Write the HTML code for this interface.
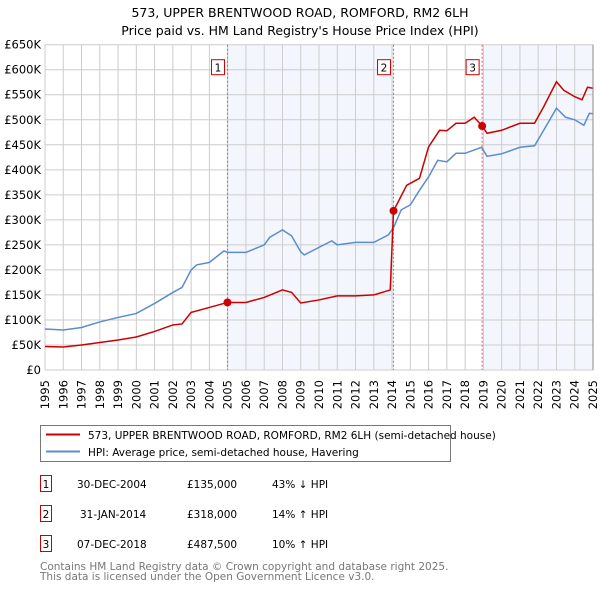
<!DOCTYPE html>
<html><head><meta charset="utf-8"><style>
body{margin:0;background:#fff;font-family:"Liberation Sans","DejaVu Sans",sans-serif;}
svg text{font-family:"DejaVu Sans","Liberation Sans",sans-serif;}
</style></head><body>
<svg id="c" width="600" height="590" viewBox="0 0 600 590" xmlns="http://www.w3.org/2000/svg">
<text x="300" y="17" text-anchor="middle" font-size="12.5" fill="#000">573, UPPER BRENTWOOD ROAD, ROMFORD, RM2 6LH</text>
<text x="300" y="35" text-anchor="middle" font-size="12.5" fill="#000">Price paid vs. HM Land Registry's House Price Index (HPI)</text>
<g id="plot"></g>
<g>
<rect x="40.5" y="425.5" width="410" height="36" fill="#fff" stroke="#777"/>
<line x1="46" y1="434.5" x2="80" y2="434.5" stroke="#cc0000" stroke-width="2"/>
<text x="88" y="439" font-size="10.5">573, UPPER BRENTWOOD ROAD, ROMFORD, RM2 6LH (semi-detached house)</text>
<line x1="46" y1="451.5" x2="80" y2="451.5" stroke="#5b8bd0" stroke-width="2"/>
<text x="88" y="456" font-size="10.5">HPI: Average price, semi-detached house, Havering</text>
</g>
<g font-size="10.5">
<rect x="40.5" y="475.5" width="11" height="16" fill="#fff" stroke="#cc0000"/><text x="46" y="488" text-anchor="middle">1</text>
<text x="77" y="488">30-DEC-2004</text><text x="187" y="488">£135,000</text><text x="272" y="488">43% ↓ HPI</text>
<rect x="40.5" y="505.5" width="11" height="16" fill="#fff" stroke="#cc0000"/><text x="46" y="518" text-anchor="middle">2</text>
<text x="80" y="518">31-JAN-2014</text><text x="187" y="518">£318,000</text><text x="272" y="518">14% ↑ HPI</text>
<rect x="40.5" y="535.5" width="11" height="16" fill="#fff" stroke="#cc0000"/><text x="46" y="548" text-anchor="middle">3</text>
<text x="77" y="548">07-DEC-2018</text><text x="187" y="548">£487,500</text><text x="272" y="548">10% ↑ HPI</text>
</g>
<text x="40" y="570" font-size="10.5" fill="#777">Contains HM Land Registry data © Crown copyright and database right 2025.</text>
<text x="40" y="580" font-size="10.5" fill="#777">This data is licensed under the Open Government Licence v3.0.</text>
</svg>
<script>
const yTicks=[0,50000,100000,150000,200000,250000,300000,350000,400000,450000,500000,550000,600000,650000];
const yTickLabels=["£0","£50K","£100K","£150K","£200K","£250K","£300K","£350K","£400K","£450K","£500K","£550K","£600K","£650K"];
const xYears=[1995,1996,1997,1998,1999,2000,2001,2002,2003,2004,2005,2006,2007,2008,2009,2010,2011,2012,2013,2014,2015,2016,2017,2018,2019,2020,2021,2022,2023,2024,2025];
const hpiT=[1995,1996,1997,1998,1999,2000,2001,2002,2002.5,2003,2003.3,2004,2004.8,2005,2006,2007,2007.3,2008,2008.5,2009,2009.2,2010,2010.7,2011,2012,2013,2013.8,2014.1,2014.5,2015,2015.5,2016,2016.5,2017,2017.5,2018,2018.9,2019.2,2020,2021,2021.8,2022.3,2023,2023.5,2024,2024.5,2024.8,2025];
const hpiV=[82000,80000,85000,96000,105000,113000,133000,155000,165000,200000,210000,215000,238000,235000,235000,250000,265000,280000,268000,236000,230000,245000,258000,250000,255000,255000,270000,286000,320000,330000,359000,386000,419000,416000,433000,433000,445000,427000,432000,445000,448000,479000,523000,505000,500000,489000,513000,512000];
const priceT=[1995,1996,1997,1998,1999,2000,2001,2002,2002.5,2003,2004,2004.99,2006,2007,2008,2008.5,2009,2010,2011,2012,2013,2013.9,2014.08,2014.8,2015.5,2016,2016.6,2017,2017.5,2018,2018.5,2018.93,2019.2,2020,2021,2021.8,2022.3,2023,2023.4,2024,2024.4,2024.7,2025];
const priceV=[47000,46000,50000,55000,60000,66000,77000,90000,92000,115000,125000,135000,135000,145000,160000,155000,134000,140000,148000,148000,150000,160000,318000,369000,383000,446000,479000,478000,493000,493000,505000,487500,473000,479000,493000,493000,526000,576000,559000,546000,540000,565000,563000];
const saleT=[2004.99,2014.08,2018.93];
const saleV=[135000,318000,487500];
const saleLabels=["1","2","3"];
const X0=45,X1=593,Y0=370,Y1=44.7;
const xs=t=>X0+(t-1995)/30*(X1-X0);
const ys=v=>Y0-v/650000*(Y0-Y1);
const NS="http://www.w3.org/2000/svg";
const g=document.getElementById('plot');
function mk(tag,attrs){const e=document.createElementNS(NS,tag);for(const k in attrs)e.setAttribute(k,attrs[k]);g.appendChild(e);return e;}
let e;
e=mk('rect',{x:xs(saleT[0]),y:Y1,width:xs(saleT[1])-xs(saleT[0]),height:Y0-Y1,fill:'#eef3fc',opacity:0.7});


e=mk('rect',{x:xs(saleT[2]),y:Y1,width:X1-xs(saleT[2]),height:Y0-Y1,fill:'#eef3fc',opacity:0.7});


xYears.forEach(y=>{
 e=mk('line',{x1:xs(y),x2:xs(y),y1:Y1,y2:Y0,stroke:'#ccc','stroke-width':1});
 
 
 e=mk('text',{x:0,y:0,'font-size':11.5,transform:`translate(${xs(y)+4},${Y0+10}) rotate(-90)`,'text-anchor':'end'});
 e.textContent=y;
 
 
});
yTicks.forEach((v,i)=>{
 e=mk('line',{x1:X0,x2:X1,y1:ys(v),y2:ys(v),stroke:'#ccc','stroke-width':1});
 
 
 e=mk('text',{x:X0-4,y:ys(v)+4,'font-size':11.5,'text-anchor':'end'});
 e.textContent=yTickLabels[i];
 
 
});
saleT.forEach((t,i)=>{
 e=mk('line',{x1:xs(t),x2:xs(t),y1:Y1,y2:Y0,stroke:'#e06060','stroke-width':1,'stroke-dasharray':'2,2'});
 
 
 e=mk('rect',{x:xs(t)-16,y:Y1+15,width:13,height:15,fill:'#fff',stroke:'#cc0000'});
 
 
 e=mk('text',{x:xs(t)-9.5,y:Y1+27,'font-size':10.5,'text-anchor':'middle'});
 e.textContent=saleLabels[i];
 
 
});
e=mk('polyline',{points:hpiT.map((t,i)=>xs(t)+','+ys(hpiV[i])).join(' '),fill:'none',stroke:'#5b8bd0','stroke-width':1.5});


e=mk('polyline',{points:priceT.map((t,i)=>xs(t)+','+ys(priceV[i])).join(' '),fill:'none',stroke:'#cc0000','stroke-width':1.5});


saleT.forEach((t,i)=>{
 e=mk('circle',{cx:xs(t),cy:ys(saleV[i]),r:4,fill:'#cc0000'});
 
 
});
e=mk('line',{x1:X1,x2:X1,y1:Y1,y2:Y0,stroke:'#888','stroke-width':1});


</script>
</body></html>
